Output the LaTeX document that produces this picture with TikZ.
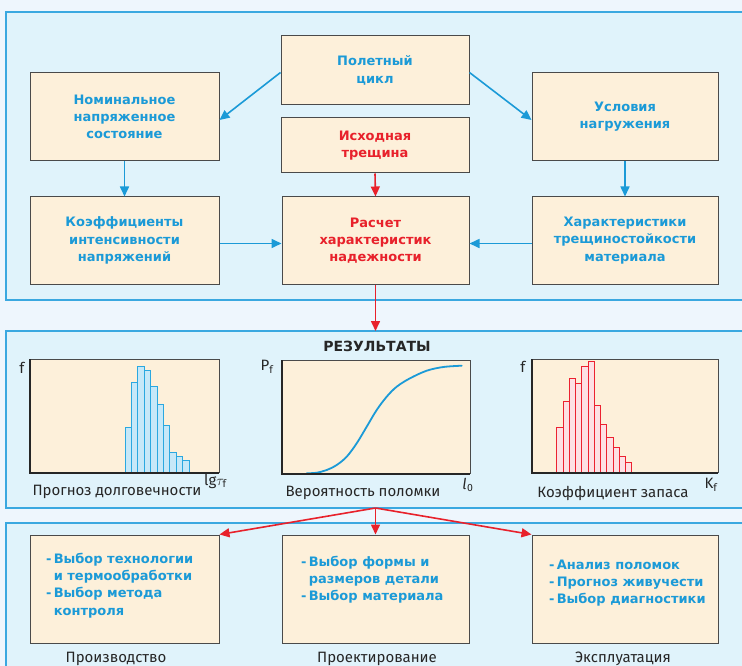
\documentclass[tikz,border=0pt]{standalone}
\usepackage{fontspec}
\setmainfont{Fira Sans}
\newfontfamily\heavyfont{DejaVu Sans}
\usetikzlibrary{arrows.meta,calc}
\definecolor{pagebg}{HTML}{EEF6FD}
\definecolor{panelbg}{HTML}{E0F3FB}
\definecolor{panelline}{HTML}{3AA8E0}
\definecolor{boxfill}{HTML}{FDF0DA}
\definecolor{boxline}{HTML}{4A4A4A}
\definecolor{blueT}{HTML}{1B9AD7}
\definecolor{redT}{HTML}{E8212B}
\definecolor{histB}{HTML}{2AA8E0}
\definecolor{histBf}{HTML}{C6E8F8}
\definecolor{histR}{HTML}{EC2230}
\definecolor{histRf}{HTML}{FDE1E4}
\begin{document}
\begin{tikzpicture}[x=1pt,y=-1pt,
  panel/.style={draw=panelline, line width=1.2pt, fill=panelbg},
  box/.style={draw=boxline, line width=1pt, fill=boxfill, inner sep=2pt, align=center,
    font=\heavyfont\bfseries\fontsize{13}{17.3}\selectfont},
  bluebox/.style={box, text=blueT},
  redbox/.style={box, text=redT},
  listtext/.style={anchor=north west, inner sep=0pt, text=blueT,
    font=\heavyfont\bfseries\fontsize{13}{17.3}\selectfont},
  barrow/.style={draw=blueT, line width=1.6pt, -{Triangle[length=10pt,width=9pt]}},
  rarrow/.style={draw=redT, line width=1.6pt, -{Triangle[length=10pt,width=9pt]}},
  captext/.style={font=\fontsize{15}{17}\selectfont, text=black!85, inner sep=0pt},
  axlbl/.style={font=\fontsize{15}{17}\selectfont, text=black!85, inner sep=0pt},
  titletext/.style={font=\heavyfont\bfseries\fontsize{14}{17}\selectfont, text=black!85, inner sep=0pt},
  chartbg/.style={fill=boxfill},
  frameline/.style={draw=boxline, line width=0.9pt},
  axisline/.style={draw=black!85, line width=2pt},
  histbarB/.style={draw=histB, fill=histBf, line width=0.9pt},
  histbarR/.style={draw=histR, fill=histRf, line width=0.9pt},
  curve/.style={draw=blueT, line width=1.8pt, line cap=round}
]
% page
\fill[pagebg] (0,0) rectangle (742,666);
\useasboundingbox (0,0) rectangle (742,666);

% panels
\draw[panel] (6,12) rectangle (760,300);
\draw[panel] (6,331) rectangle (760,508);
\draw[panel] (6,523) rectangle (760,690);

% top boxes
\node[bluebox, minimum width=188pt, minimum height=69pt] (cycle) at (375,70.5) {Полетный\\цикл};
\node[redbox, minimum width=188pt, minimum height=55pt] (crack) at (375,145.5) {Исходная\\трещина};
\node[redbox, minimum width=187pt, minimum height=87pt] (calc) at (375.5,240.5) {Расчет\\характеристик\\надежности};
\node[bluebox, minimum width=189pt, minimum height=88pt] (nominal) at (124.5,117) {Номинальное\\напряженное\\состояние};
\node[bluebox, minimum width=189pt, minimum height=87pt] (coef) at (124.5,240.5) {Коэффициенты\\интенсивности\\напряжений};
\node[bluebox, minimum width=186pt, minimum height=88pt] (load) at (625,117) {Условия\\нагружения};
\node[bluebox, minimum width=186pt, minimum height=87pt] (charact) at (625,240.5) {Характеристики\\трещиностойкости\\материала};

% top arrows
\draw[barrow] ([yshift=-2pt]cycle.west) -- ([yshift=-3pt]nominal.east);
\draw[barrow] ([yshift=-2pt]cycle.east) -- ([yshift=-3pt]load.west);
\draw[barrow] (nominal.south) -- (coef.north);
\draw[barrow] (load.south) -- (charact.north);
\draw[barrow] ([yshift=-3pt]coef.east) -- ([yshift=-3pt]calc.west);
\draw[barrow] ([yshift=-3pt]charact.west) -- ([yshift=-3pt]calc.east);
\draw[rarrow] (crack.south) -- (calc.north);
\coordinate (restop) at (375.5,331);
\draw[rarrow] (calc.south) -- (restop);

% results title
\node[titletext] (restitle) at (377,346) {РЕЗУЛЬТАТЫ};

% chart 1
\fill[chartbg] (30,359) rectangle (219,473);
\foreach \h [count=\i from 0] in {427.3,382.3,366,370,386.7,404,425.7,452.3,456.7,460.3}
  \draw[histbarB] ({125+\i*6.4},473) rectangle ({125+(\i+1)*6.4},\h);
\draw[frameline] (30,359) -- (219,359) -- (219,473);
\draw[axisline] (30,359) -- (30,473) -- (219,473);
\node[axlbl] (f1) at (22,368) {f};
\node[axlbl, anchor=west] (lg) at (204,481) {lg$\tau_{\mathrm{f}}$};
\node[captext] (cap1) at (117,492) {Прогноз долговечности};

% chart 2
\fill[chartbg] (282,360) rectangle (470,474);
\draw[curve] plot[smooth, tension=0.55] coordinates {(306.7,473.3) (316.7,472.7) (326.7,470) (336.7,465) (346.7,456.7) (356.7,443.3) (366.7,426.7) (376.7,410) (386.7,396.7) (396.7,386.7) (410,378.3) (426.7,370.7) (443.3,367) (461.7,365.7)};
\draw[frameline] (282,360) -- (470,360) -- (470,474);
\draw[axisline] (282,360) -- (282,474) -- (470,474);
\node[axlbl] (pf) at (267,367) {P$_{\mathrm{f}}$};
\node[axlbl] (l0) at (468,485) {\itshape l\kern0.5pt$_{\mathrm{0}}$};
\node[captext] (cap2) at (363,493) {Вероятность поломки};

% chart 3
\fill[chartbg] (532,359) rectangle (718,473);
\foreach \h [count=\i from 0] in {427.3,401.7,378.3,383.3,366,361.7,405.7,424.7,437.7,447.7,456.3,462.7}
  \draw[histbarR] ({556.7+\i*6.25},473) rectangle ({556.7+(\i+1)*6.25},\h);
\draw[frameline] (532,359) -- (718,359) -- (718,473);
\draw[axisline] (532,359) -- (532,473) -- (718,473);
\node[axlbl] (f3) at (523,367) {f};
\node[axlbl] (kf) at (711,485) {K$_{\mathrm{f}}$};
\node[captext] (cap3) at (613,493) {Коэффициент запаса};

% bottom boxes
\node[box, minimum width=189pt, minimum height=108pt] (prod) at (124.5,589) {};
\node[box, minimum width=187pt, minimum height=108pt] (design) at (375.5,589) {};
\node[box, minimum width=186pt, minimum height=108pt] (oper) at (625,589) {};

\node[listtext] (prodtxt) at (46,551) {\begin{tabular}{@{}l@{\,}l@{}}-&Выбор технологии\\&и термообработки\\-&Выбор метода\\&контроля\end{tabular}};
\node[listtext] (designtxt) at (301,554) {\begin{tabular}{@{}l@{\,}l@{}}-&Выбор формы и\\&размеров детали\\-&Выбор материала\end{tabular}};
\node[listtext] (opertxt) at (549,557) {\begin{tabular}{@{}l@{\,}l@{}}-&Анализ поломок\\-&Прогноз живучести\\-&Выбор диагностики\end{tabular}};

\node[captext] (lab1) at (116,659) {Производство};
\node[captext] (lab2) at (377,659) {Проектирование};
\node[captext] (lab3) at (623,659) {Эксплуатация};

% fan arrows
\coordinate (fan) at (375.5,508);
\draw[rarrow] (fan) -- (prod.north east);
\draw[rarrow] (fan) -- (design.north);
\draw[rarrow] (fan) -- (oper.north west);
\end{tikzpicture}
\end{document}
